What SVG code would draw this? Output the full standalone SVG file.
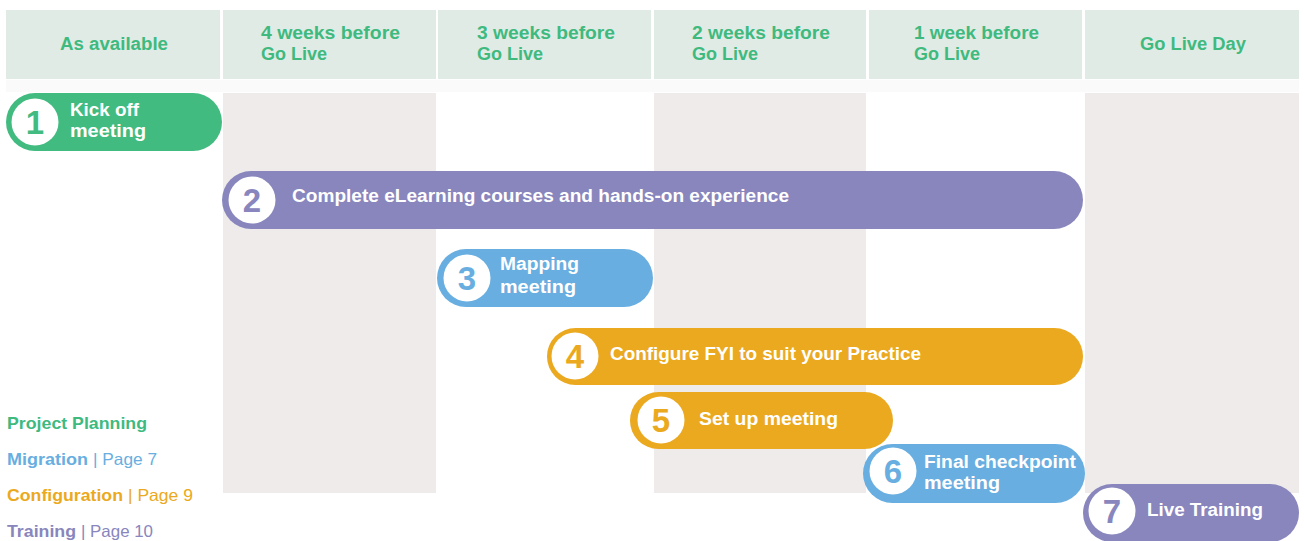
<svg xmlns="http://www.w3.org/2000/svg" width="1304" height="541" viewBox="0 0 1304 541">
<style>
.hd{fill:#e0ebe5}
.band{fill:#eeebea}
.ht{font-family:"Liberation Sans",Arial,sans-serif;font-weight:700;font-size:18px;fill:#3fba7f}
.bt{font-family:"Liberation Sans",Arial,sans-serif;font-weight:700;font-size:18px;fill:#ffffff}
.num{font-family:"Liberation Sans",Arial,sans-serif;font-weight:700;font-size:33px;text-anchor:middle}
.lg{font-family:"Liberation Sans",Arial,sans-serif;font-size:16.5px}
.b{font-weight:700}
.green{fill:#41bb80}.purple{fill:#8886bd}.blue{fill:#68aee0}.orange{fill:#eba920}
.lgreen{fill:#3fba7f}.lblue{fill:#68aee0}.lorange{fill:#eba920}.lpurple{fill:#8886bd}
</style>
<rect width="1304" height="541" fill="#ffffff"/>
<g id="columns">
<rect x="6" y="80" width="1293" height="12" fill="#fafafa"/>
<rect class="band" x="223" y="93" width="213" height="400"/>
<rect class="band" x="654" y="93" width="212" height="400"/>
<rect class="band" x="1085" y="93" width="214" height="400"/>
</g>
<g id="header">
<rect class="hd" x="6" y="10" width="214" height="69"/>
<rect class="hd" x="223" y="10" width="213" height="69"/>
<rect class="hd" x="438" y="10" width="213" height="69"/>
<rect class="hd" x="654" y="10" width="212" height="69"/>
<rect class="hd" x="869" y="10" width="213" height="69"/>
<rect class="hd" x="1085" y="10" width="214" height="69"/>
<text class="ht" x="60" y="50" textLength="108" lengthAdjust="spacingAndGlyphs">As available</text>
<text class="ht" x="261" y="38.5" textLength="139" lengthAdjust="spacingAndGlyphs">4 weeks before</text>
<text class="ht" x="261" y="59.5" textLength="66" lengthAdjust="spacingAndGlyphs">Go Live</text>
<text class="ht" x="477" y="38.5" textLength="138" lengthAdjust="spacingAndGlyphs">3 weeks before</text>
<text class="ht" x="477" y="59.5" textLength="66" lengthAdjust="spacingAndGlyphs">Go Live</text>
<text class="ht" x="692" y="38.5" textLength="138" lengthAdjust="spacingAndGlyphs">2 weeks before</text>
<text class="ht" x="692" y="59.5" textLength="66" lengthAdjust="spacingAndGlyphs">Go Live</text>
<text class="ht" x="914" y="38.5" textLength="125" lengthAdjust="spacingAndGlyphs">1 week before</text>
<text class="ht" x="914" y="59.5" textLength="66" lengthAdjust="spacingAndGlyphs">Go Live</text>
<text class="ht" x="1140" y="50" textLength="106" lengthAdjust="spacingAndGlyphs">Go Live Day</text>
</g>
<g id="connectors"></g>
<g id="step1">
<rect class="green" x="6" y="93" width="216" height="58" rx="29"/>
<circle cx="35" cy="122" r="23.5" fill="#fff"/>
<text class="num green" x="35" y="134">1</text>
<text class="bt" x="70" y="115.5" textLength="69" lengthAdjust="spacingAndGlyphs">Kick off</text>
<text class="bt" x="70" y="136.5" textLength="76" lengthAdjust="spacingAndGlyphs">meeting</text>
</g>
<g id="step2">
<rect class="purple" x="222" y="171" width="861" height="58" rx="29"/>
<circle cx="252" cy="200" r="23.5" fill="#fff"/>
<text class="num purple" x="252" y="212">2</text>
<text class="bt" x="292" y="202" textLength="497" lengthAdjust="spacingAndGlyphs">Complete eLearning courses and hands-on experience</text>
</g>
<g id="step3">
<rect class="blue" x="437" y="249" width="216" height="58" rx="29"/>
<circle cx="467" cy="278" r="23.5" fill="#fff"/>
<text class="num blue" x="467" y="290">3</text>
<text class="bt" x="500" y="270" textLength="79" lengthAdjust="spacingAndGlyphs">Mapping</text>
<text class="bt" x="500" y="293" textLength="76" lengthAdjust="spacingAndGlyphs">meeting</text>
</g>
<g id="step4">
<rect class="orange" x="547" y="328" width="536" height="57" rx="28.5"/>
<circle cx="575" cy="356" r="23.5" fill="#fff"/>
<text class="num orange" x="575" y="368">4</text>
<text class="bt" x="610" y="360" textLength="311" lengthAdjust="spacingAndGlyphs">Configure FYI to suit your Practice</text>
</g>
<g id="step5">
<rect class="orange" x="630" y="392" width="263" height="57" rx="28.5"/>
<circle cx="661" cy="420" r="23.5" fill="#fff"/>
<text class="num orange" x="661" y="432">5</text>
<text class="bt" x="699" y="425" textLength="139" lengthAdjust="spacingAndGlyphs">Set up meeting</text>
</g>
<g id="step6">
<rect class="blue" x="863" y="444" width="222" height="59" rx="29.5"/>
<circle cx="893" cy="471" r="23.5" fill="#fff"/>
<text class="num blue" x="893" y="483">6</text>
<text class="bt" x="924" y="467.5" textLength="152" lengthAdjust="spacingAndGlyphs">Final checkpoint</text>
<text class="bt" x="924" y="488.5" textLength="76" lengthAdjust="spacingAndGlyphs">meeting</text>
</g>
<g id="step7">
<rect class="purple" x="1083" y="484" width="216" height="58" rx="29"/>
<circle cx="1112" cy="511" r="23.5" fill="#fff"/>
<text class="num purple" x="1112" y="523">7</text>
<text class="bt" x="1147" y="516" textLength="116" lengthAdjust="spacingAndGlyphs">Live Training</text>
</g>
<g id="legend">
<text class="lg b lgreen" x="7" y="429" textLength="140" lengthAdjust="spacingAndGlyphs">Project Planning</text>
<text class="lg b lblue" x="7" y="465" textLength="81" lengthAdjust="spacingAndGlyphs">Migration</text>
<text class="lg lblue" x="93" y="465" textLength="64" lengthAdjust="spacingAndGlyphs">| Page 7</text>
<text class="lg b lorange" x="7" y="501" textLength="116" lengthAdjust="spacingAndGlyphs">Configuration</text>
<text class="lg lorange" x="128" y="501" textLength="65" lengthAdjust="spacingAndGlyphs">| Page 9</text>
<text class="lg b lpurple" x="7" y="537" textLength="69" lengthAdjust="spacingAndGlyphs">Training</text>
<text class="lg lpurple" x="81" y="537" textLength="72" lengthAdjust="spacingAndGlyphs">| Page 10</text>
</g>
</svg>
